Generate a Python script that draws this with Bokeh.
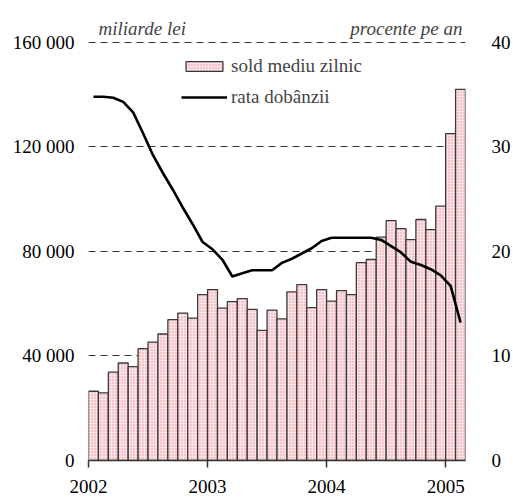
from bokeh.plotting import figure
from bokeh.models import Range1d, LinearAxis, FixedTicker, Label, Legend, LegendItem
from bokeh.embed import file_html
from bokeh.resources import INLINE

# ---- data ----
years = ["2002", "2003", "2004", "2005"]
year_ticks = [0, 12, 24, 36]
sold = [26500, 25900, 33800, 37300, 35900, 42800, 45300, 48400, 53900, 56400, 54500, 63500,
        65400, 58300, 60800, 61900, 57800, 49800, 57500, 54200, 64500, 67300, 58500, 65400,
        61000, 65000, 63500, 75700, 76900, 85500, 91800, 88700, 84500, 92200, 88300, 97300,
        125100, 142000]
rate = [34.8, 34.8, 34.7, 34.3, 33.3, 31.3, 29.2, 27.5, 25.9, 24.2, 22.6, 20.9,
        20.2, 19.2, 17.6, 17.9, 18.2, 18.2, 18.2, 18.9, 19.3, 19.8, 20.3, 21.0,
        21.3, 21.3, 21.3, 21.3, 21.3, 21.1, 20.5, 19.9, 19.0, 18.7, 18.3, 17.7,
        16.7, 13.2]
left_ticks = [0, 40000, 80000, 120000, 160000]
left_labels = ["0", "40 000", "80 000", "120 000", "160 000"]
right_ticks = [0, 10, 20, 30, 40]
right_labels = ["0", "10", "20", "30", "40"]

xs = [i + 0.5 for i in range(len(sold))]
FONT = "Liberation Serif"

# frame spans the canvas top so that the unit notes sit inside it
Y_END = 176000
p = figure(width=513, height=501, x_range=Range1d(0, len(sold)), y_range=Range1d(0, Y_END),
           output_backend="svg", toolbar_location=None,
           min_border_left=88, min_border_right=46, min_border_top=0, min_border_bottom=41)
p.extra_y_ranges = {"rate": Range1d(0, 40 * Y_END / 160000)}
p.outline_line_color = None
p.background_fill_color = "white"
p.border_fill_color = "white"

# grid
p.xgrid.visible = False
p.ygrid.grid_line_color = "#333333"
p.ygrid.grid_line_dash = "7 5"
p.ygrid.grid_line_width = 1

# bottom axis
xa = p.xaxis[0]
xa.ticker = FixedTicker(ticks=year_ticks)
xa.major_label_overrides = {t: y for t, y in zip(year_ticks, years)}
xa.minor_tick_line_color = None
xa.major_tick_in = 0
xa.major_tick_out = 7
xa.axis_line_color = "#333333"
xa.axis_line_width = 1.5
xa.major_tick_line_color = "#333333"
xa.major_tick_line_width = 1.5
xa.major_label_text_font = FONT
xa.major_label_text_font_size = "19px"
xa.major_label_text_color = "black"
xa.major_label_standoff = 12

# left axis
ya = p.yaxis[0]
ya.ticker = FixedTicker(ticks=left_ticks)
ya.major_label_overrides = {t: l for t, l in zip(left_ticks, left_labels)}
ya.axis_line_color = None
ya.major_tick_line_color = None
ya.minor_tick_line_color = None
ya.major_tick_in = 0
ya.major_tick_out = 0
ya.major_label_text_font = FONT
ya.major_label_text_font_size = "19px"
ya.major_label_text_color = "black"
ya.major_label_standoff = 14

# right axis
ra = LinearAxis(y_range_name="rate", ticker=FixedTicker(ticks=right_ticks))
ra.major_label_overrides = {t: l for t, l in zip(right_ticks, right_labels)}
ra.axis_line_color = None
ra.major_tick_line_color = None
ra.minor_tick_line_color = None
ra.major_tick_in = 0
ra.major_tick_out = 0
ra.major_label_text_font = FONT
ra.major_label_text_font_size = "19px"
ra.major_label_text_color = "black"
ra.major_label_standoff = 26
p.add_layout(ra, "right")

bars = p.vbar(x=xs, top=sold, width=1, bottom=0,
              fill_color="#fbe4e7", hatch_pattern="dot", hatch_color="#ee8e97",
              hatch_scale=3, hatch_weight=1.5,
              line_color="#3a3a3a", line_width=1.3)
line = p.line(xs, rate, y_range_name="rate", line_color="black", line_width=2.6)

legend = Legend(items=[LegendItem(label="sold mediu zilnic", renderers=[bars]),
                       LegendItem(label="rata dobânzii", renderers=[line])],
                location=(93, 352))
legend.background_fill_alpha = 0
legend.border_line_color = None
legend.padding = 0
legend.margin = 0
legend.glyph_width = 46
legend.glyph_height = 12
legend.label_text_font = FONT
legend.label_text_font_size = "19px"
legend.label_standoff = 4
legend.spacing = 9
p.add_layout(legend)

p.add_layout(Label(x=10, y=432, x_units="screen", y_units="screen", text="miliarde lei",
                   text_font=FONT, text_font_style="italic", text_font_size="19px",
                   text_align="left", text_baseline="alphabetic"))
p.add_layout(Label(x=374, y=432, x_units="screen", y_units="screen", text="procente pe an",
                   text_font=FONT, text_font_style="italic", text_font_size="19px",
                   text_align="right", text_baseline="alphabetic"))

open("out.html", "w").write(file_html(p, INLINE))
